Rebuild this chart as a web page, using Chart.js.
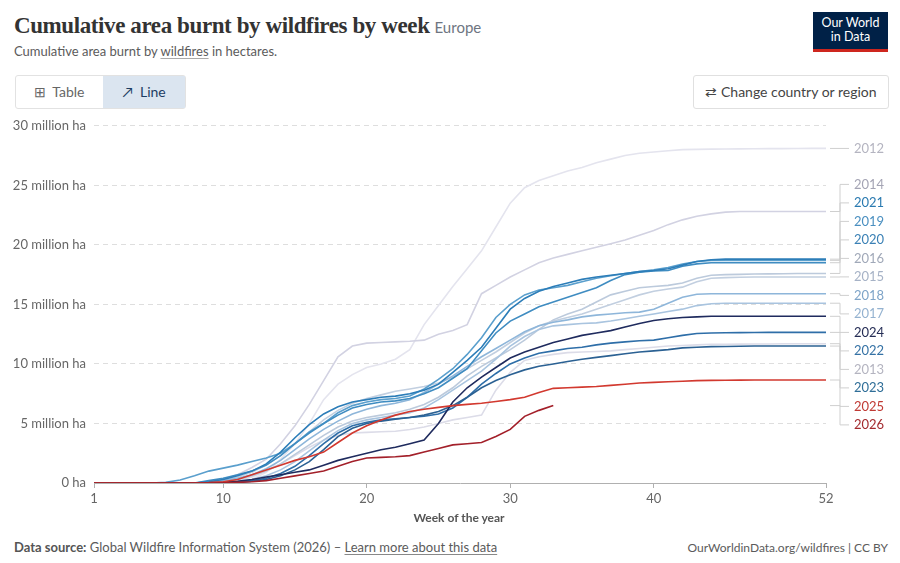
<!DOCTYPE html>
<html>
<head>
<meta charset="utf-8">
<script src="https://cdn.jsdelivr.net/npm/chart.js@4.4.1/dist/chart.umd.min.js"></script>
<style>
  body { margin:0; width:900px; height:563px; background:#fff; font-family:Lato, "Noto Sans", sans-serif; position:relative; overflow:hidden; }
  #title { position:absolute; left:14px; top:13px; font-family:"Liberation Serif", serif; font-weight:600; font-size:23px; color:#333; white-space:nowrap; letter-spacing:-0.4px; }
  #title span { font-family:Lato, sans-serif; font-weight:400; font-size:15px; color:#6e7581; margin-left:5px; letter-spacing:0; }
  #sub { position:absolute; left:14px; top:43px; font-size:13px; color:#5b5b5b; }
  #sub u { text-decoration-color:#aaa; text-underline-offset:2px; }
  #logo { position:absolute; left:813px; top:12px; width:75px; background:#002147; border-bottom:3px solid #ce261e; color:#fff; font-size:12.5px; line-height:14px; text-align:center; padding-top:4px; height:33px; }
  #tabs { position:absolute; left:15px; top:75px; width:169px; height:32px; border:1px solid #e2e2e2; border-radius:3px; }
  #tabs div { position:absolute; top:0; height:32px; line-height:32px; font-size:14px; }
  #tab1 { left:0; width:86px; color:#666; text-align:center; }
  #tab2 { left:87px; width:82px; background:#dbe5f0; color:#1d3d63; text-align:center; }
  #btn { position:absolute; left:693px; top:75px; width:194px; height:32px; border:1px solid #e0e0e0; border-radius:3px; line-height:32px; font-size:14px; color:#444; text-align:center; }
  #chartwrap { position:absolute; left:0; top:110px; width:900px; height:420px; }
  #xtitle { position:absolute; left:94px; width:730px; top:510px; text-align:center; font-size:12px; font-weight:700; color:#555; }
  #src { position:absolute; left:14px; top:539px; font-size:13px; color:#5b5b5b; }
  #src b { color:#555; }
  #src u { text-decoration-color:#888; text-underline-offset:2px; }
  #lic { position:absolute; right:12px; top:540px; font-size:12px; color:#5b5b5b; }
</style>
</head>
<body>
<div id="title">Cumulative area burnt by wildfires by week<span>Europe</span></div>
<div id="sub">Cumulative area burnt by <u>wildfires</u> in hectares.</div>
<div id="logo">Our World<br>in Data</div>
<div id="tabs"><div id="tab1">&#x229E;&nbsp; Table</div><div id="tab2">&#x2197;&nbsp; Line</div></div>
<div id="btn">&#x21C4; Change country or region</div>
<div id="chartwrap"><canvas id="c" width="900" height="420"></canvas></div>
<div id="xtitle">Week of the year</div>
<div id="src"><b>Data source:</b> Global Wildfire Information System (2026) – <u>Learn more about this data</u></div>
<div id="lic">OurWorldinData.org/wildfires | CC BY</div>
<script>
// weeks of the year
var weeks = [1,2,3,4,5,6,7,8,9,10,11,12,13,14,15,16,17,18,19,20,21,22,23,24,25,26,
             27,28,29,30,31,32,33,34,35,36,37,38,39,40,41,42,43,44,45,46,47,48,49,50,51,52];
var xTicks = [1, 10, 20, 30, 40, 52];
var yTicks = [0, 5, 10, 15, 20, 25, 30];

// cumulative area burnt, million hectares
var y2012 = [0,0,0,0,0,0,0,0,0.02,0.05,0.12,0.3,0.9,2.0,3.3,5.0,7.0,8.3,9.1,9.7,10.0,10.4,11.2,13.3,14.9,16.5,
             18.0,19.5,21.5,23.5,24.8,25.4,25.8,26.2,26.5,26.9,27.2,27.5,27.7,27.8,27.9,28.0,28.02,28.04,28.05,28.06,28.07,28.08,28.08,28.09,28.1,28.1];
var y2013 = [0,0,0,0,0,0,0,0,0,0.05,0.2,0.5,1.0,1.6,2.3,3.0,3.6,4.0,4.2,4.25,4.3,4.35,4.5,4.7,5.0,5.3,
             5.5,5.7,7.8,9.3,10.3,10.6,10.8,10.95,11.0,11.05,11.1,11.2,11.3,11.4,11.5,11.55,11.6,11.65,11.65,11.66,11.67,11.68,11.69,11.7,11.7,11.7];
var y2014 = [0,0,0,0,0,0,0,0,0.1,0.3,0.7,1.3,2.0,3.3,4.8,6.6,8.6,10.6,11.5,11.75,11.8,11.85,11.9,12.0,12.5,12.8,
             13.3,15.9,16.6,17.3,17.9,18.5,18.9,19.2,19.5,19.8,20.1,20.4,20.8,21.2,21.7,22.1,22.4,22.6,22.75,22.8,22.8,22.8,22.8,22.8,22.8,22.8];
var y2015 = [0,0,0,0,0,0,0,0,0.05,0.2,0.5,0.9,1.5,2.3,3.3,4.3,5.3,6.1,6.7,7.1,7.4,7.7,7.9,8.1,8.4,8.9,
             9.6,10.3,11.0,11.8,12.6,13.2,13.6,13.9,14.2,14.6,15.0,15.4,15.8,16.1,16.3,16.45,16.9,17.2,17.25,17.28,17.3,17.3,17.3,17.3,17.3,17.3];
var y2016 = [0,0,0,0,0,0,0,0,0,0.1,0.3,0.6,1.0,1.6,2.4,3.2,4.0,4.7,5.2,5.5,5.7,5.9,6.2,6.6,7.2,8.0,
             9.0,9.8,10.5,11.2,12.0,12.9,13.7,14.2,14.6,15.2,15.8,16.1,16.4,16.5,16.6,16.8,17.2,17.45,17.5,17.52,17.55,17.56,17.58,17.6,17.6,17.6];
var y2017 = [0,0,0,0,0,0,0,0,0,0.03,0.1,0.3,0.6,1.1,1.8,2.7,3.6,4.4,5.0,5.3,5.5,5.7,5.9,6.3,7.0,7.8,
             8.6,9.4,10.4,11.5,12.3,12.9,13.2,13.3,13.4,13.45,13.6,13.8,14.0,14.2,14.4,14.6,14.9,15.05,15.1,15.1,15.1,15.1,15.1,15.1,15.1,15.1];
var y2018 = [0,0,0,0,0,0,0,0,0.05,0.2,0.4,0.7,1.2,1.9,2.8,3.7,4.5,5.2,5.8,6.2,6.5,6.7,7.0,7.6,8.3,9.0,
             9.8,10.6,11.3,12.0,12.7,13.2,13.5,13.7,13.95,14.1,14.2,14.3,14.35,14.6,15.1,15.6,15.85,15.9,15.9,15.9,15.9,15.9,15.9,15.9,15.9,15.9];
var y2019 = [0,0,0,0,0,0.05,0.25,0.6,1.0,1.25,1.5,1.8,2.1,2.5,3.3,4.3,5.0,5.9,6.5,6.8,7.0,7.1,7.3,7.9,8.7,9.6,
             10.8,12.2,13.9,15.0,15.8,16.2,16.4,16.6,16.9,17.2,17.4,17.6,17.75,17.9,18.1,18.4,18.6,18.7,18.7,18.7,18.7,18.7,18.7,18.7,18.7,18.7];
var y2020 = [0,0,0,0,0,0,0,0,0.2,0.4,0.7,1.0,1.5,2.3,3.3,4.2,5.0,5.7,6.3,6.6,6.8,6.9,7.1,7.5,8.0,8.8,
             9.6,11.1,12.6,13.6,14.2,14.8,15.2,15.6,16.0,16.4,17.0,17.5,17.7,17.8,17.85,18.2,18.4,18.5,18.5,18.5,18.5,18.5,18.5,18.5,18.5,18.5];
var y2021 = [0,0,0,0,0,0,0,0,0.1,0.3,0.6,1.0,1.6,2.6,3.8,4.9,5.8,6.4,6.8,7.0,7.2,7.3,7.5,7.8,8.3,9.3,
             10.3,11.4,13.0,14.6,15.5,16.1,16.5,16.8,17.1,17.3,17.45,17.6,17.75,17.85,18.0,18.3,18.6,18.75,18.8,18.8,18.8,18.8,18.8,18.8,18.8,18.8];
var y2022 = [0,0,0,0,0,0,0,0,0,0.03,0.1,0.2,0.4,0.8,1.4,2.3,3.3,4.2,4.8,5.1,5.3,5.4,5.5,5.6,5.8,6.3,
             7.2,8.3,9.2,10.0,10.5,10.9,11.1,11.3,11.4,11.6,11.75,11.85,11.95,12.0,12.2,12.4,12.55,12.6,12.62,12.63,12.64,12.65,12.65,12.65,12.65,12.65];
var y2023 = [0,0,0,0,0,0,0,0,0,0.02,0.05,0.15,0.3,0.6,1.1,1.8,2.8,3.9,4.6,5.0,5.2,5.35,5.5,5.7,6.0,6.5,
             7.2,8.0,8.6,9.1,9.5,9.8,10.0,10.2,10.4,10.55,10.7,10.85,11.0,11.1,11.2,11.35,11.4,11.45,11.47,11.48,11.5,11.5,11.5,11.5,11.5,11.5];
var y2024 = [0,0,0,0,0,0,0,0,0.02,0.05,0.15,0.3,0.5,0.7,0.9,1.1,1.5,1.9,2.2,2.5,2.8,3.0,3.3,3.6,5.0,6.8,
             8.0,8.9,9.7,10.5,11.0,11.4,11.8,12.1,12.4,12.6,12.8,13.1,13.4,13.65,13.8,13.9,13.95,14.0,14.0,14.0,14.0,14.0,14.0,14.0,14.0,14.0];
var y2025 = [0,0,0,0,0,0,0,0,0.03,0.1,0.3,0.7,1.1,1.5,1.9,2.2,2.6,3.4,4.2,4.8,5.3,5.7,6.0,6.2,6.35,6.5,
             6.6,6.7,6.85,7.0,7.2,7.6,7.95,8.0,8.05,8.1,8.2,8.3,8.4,8.45,8.5,8.55,8.6,8.62,8.63,8.64,8.65,8.65,8.65,8.65,8.65,8.65];
var y2026 = [0,0,0,0,0,0,0,0,0,0.02,0.05,0.1,0.2,0.4,0.6,0.8,1.0,1.4,1.8,2.1,2.15,2.2,2.3,2.6,2.9,3.2,
             3.3,3.4,3.9,4.5,5.6,6.1,6.5];

// years, drawn from the back to the front
var years   = ["2012","2013","2014","2016","2015","2017","2018","2019","2020","2021","2022","2023","2024","2025","2026"];
var values  = [y2012, y2013, y2014, y2016, y2015, y2017, y2018, y2019, y2020, y2021, y2022, y2023, y2024, y2025, y2026];
var lineCol = ["#e4e4ee","#dcdce8","#d2d2e2","#bccadc","#c2cfe0","#a9c4df","#8eb6da","#5a9fcd","#3f8cc1","#2c7db8","#2e6ea8","#2b6193","#1f2b5e","#d2392f","#a3202a"];
var textCol = ["#b4b4c0","#b4b4c0","#a4a4b4","#a0a8b8","#a6b2c6","#94b2d0","#7ea4c8","#4a8fc0","#3a80b5","#2a7ab0","#3572a5","#2f6e98","#252d55","#c03a34","#a32a2e"];

var datasets = [];
for (var i = 0; i < years.length; i++) {
  var pts = [];
  for (var j = 0; j < values[i].length; j++) pts.push({x: weeks[j], y: values[i][j]});
  datasets.push({
    label: years[i],
    data: pts,
    borderColor: lineCol[i],
    borderWidth: 1.6,
    pointRadius: 0,
    tension: 0,
    order: years.length - i,
    labelColor: textCol[i]
  });
}

// labels at the right end of the lines, spread so they do not overlap
var endLabels = {
  id: "endLabels",
  afterDatasetsDraw: function(chart) {
    var ctx = chart.ctx, ys = chart.scales.y, area = chart.chartArea;
    var h = 18.5, items = [];
    chart.data.datasets.forEach(function(ds) {
      var last = ds.data[ds.data.length - 1];
      var py = ys.getPixelForValue(last.y);
      items.push({ds: ds, ideal: py, y: py});
    });
    items.sort(function(a, b) { return a.ideal - b.ideal; });
    var groups = items.map(function(it) { return {items: [it], center: it.ideal}; });
    var moved = true;
    while (moved) {
      moved = false;
      for (var g = 0; g < groups.length - 1; g++) {
        var a = groups[g], b = groups[g + 1];
        var aBot = a.center + (a.items.length - 1) * h / 2;
        var bTop = b.center - (b.items.length - 1) * h / 2;
        if (bTop - aBot < h) {
          var all = a.items.concat(b.items);
          var s = 0; all.forEach(function(it) { s += it.ideal; });
          groups.splice(g, 2, {items: all, center: s / all.length});
          moved = true;
          break;
        }
      }
    }
    groups.forEach(function(gr) {
      gr.items.forEach(function(it, k) { it.y = gr.center + (k - (gr.items.length - 1) / 2) * h; });
    });
    ctx.save();
    ctx.font = "13px Lato";
    ctx.textBaseline = "middle";
    ctx.lineWidth = 1;
    ctx.strokeStyle = "#cfcfcf";
    var x0 = area.right + 4, xm = area.right + 14, x1 = area.right + 23;
    items.forEach(function(it) {
      ctx.beginPath();
      ctx.moveTo(x0, it.ideal);
      ctx.lineTo(xm, it.ideal);
      ctx.lineTo(xm, it.y);
      ctx.lineTo(x1, it.y);
      ctx.stroke();
      ctx.fillStyle = it.ds.labelColor;
      ctx.fillText(it.ds.label, area.right + 28, it.y);
    });
    ctx.restore();
  }
};

new Chart(document.getElementById("c"), {
  type: "line",
  data: { datasets: datasets },
  options: {
    responsive: false,
    animation: false,
    layout: { padding: { top: 5, right: 74, left: 0, bottom: 0 } },
    plugins: { legend: { display: false }, tooltip: { enabled: false } },
    scales: {
      x: {
        type: "linear",
        min: 1, max: 52,
        afterBuildTicks: function(scale) { scale.ticks = xTicks.map(function(v) { return {value: v}; }); },
        afterFit: function(scale) { scale.height = 47; },
        grid: { drawOnChartArea: false, drawTicks: true, tickLength: 5, color: "#b0b0b0" },
        border: { color: "#b0b0b0" },
        ticks: { color: "#666", font: { family: "Lato", size: 13 }, padding: 3, maxRotation: 0 }
      },
      y: {
        min: 0, max: 30,
        afterBuildTicks: function(scale) { scale.ticks = yTicks.map(function(v) { return {value: v}; }); },
        afterFit: function(scale) { scale.width = 94; },
        grid: { color: "#dedede", drawTicks: false },
        border: { display: false, dash: [5, 4] },
        ticks: {
          color: "#666", font: { family: "Lato", size: 13 }, padding: 8,
          callback: function(v) { return v === 0 ? "0 ha" : v + " million ha"; }
        }
      }
    }
  },
  plugins: [endLabels]
});
</script>
</body>
</html>
